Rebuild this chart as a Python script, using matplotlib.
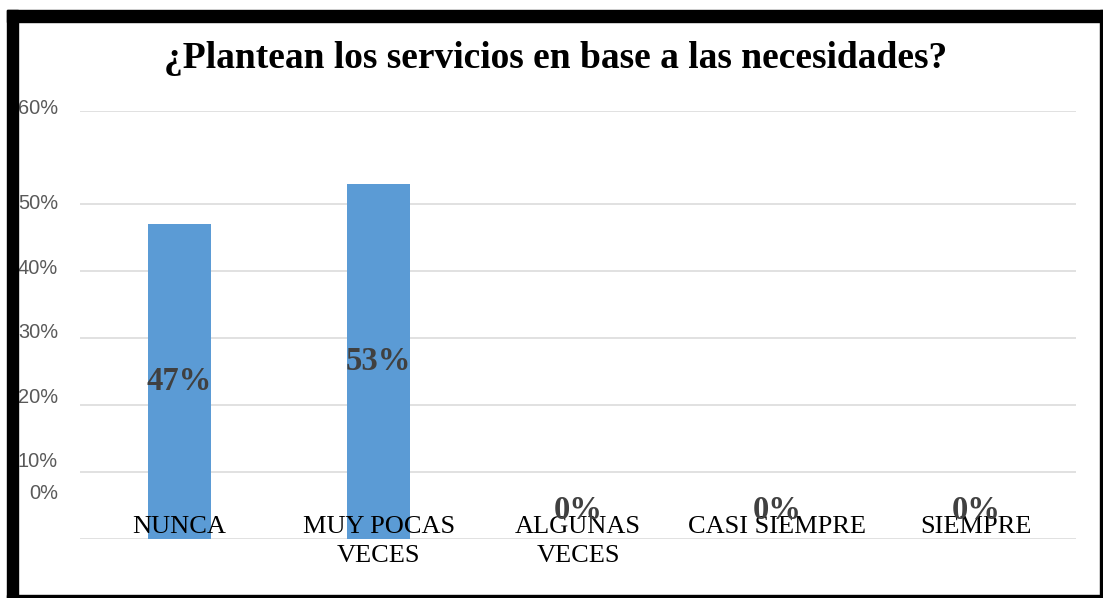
import matplotlib.pyplot as plt
from matplotlib.patches import Rectangle
from matplotlib.transforms import blended_transform_factory, ScaledTranslation

categories = ["NUNCA", "MUY POCAS\nVECES", "ALGUNAS\nVECES", "CASI SIEMPRE", "SIEMPRE"]
values = [0.47, 0.53, 0.0, 0.0, 0.0]
value_labels = ["47%", "53%", "0%", "0%", "0%"]

grid_values = [0.0, 0.1, 0.2, 0.3, 0.4, 0.5, 0.639]
tick_labels = ["0%", "10%", "20%", "30%", "40%", "50%", "60%"]
# where the (misaligned) tick labels sit, in data units
tick_label_y = [0.068, 0.116, 0.212, 0.309, 0.404, 0.501, 0.643]

W, H = 1103, 598
fig = plt.figure(figsize=(W / 100, H / 100), dpi=100)
fig.patch.set_facecolor("white")
ax = fig.add_axes([80 / W, 59 / H, 996 / W, 428 / H])

# gridlines
for g in grid_values:
    ax.axhline(g, color="#d9d9d9", linewidth=1.1, zorder=1)

x = list(range(len(categories)))
ax.bar(x, values, width=0.316, color="#5b9bd5", zorder=2)

ax.set_xlim(-0.5, len(categories) - 0.5)
ax.set_ylim(0, 0.639)
ax.axis("off")

# value labels
for xi, v, lab in zip(x, values, value_labels):
    y = v / 2 if v > 0 else 0.043
    ax.text(xi, y, lab, ha="center", va="center", fontsize=23.5,
            fontweight="bold", family="Liberation Serif", color="#404040", zorder=4)

# category labels (drawn inside the plot, above the baseline)
cat_tr = blended_transform_factory(ax.transData, ax.transAxes) + \
    ScaledTranslation(0, 23 / 100, fig.dpi_scale_trans)
for xi, cat in zip(x, categories):
    ax.text(xi, 0.0, cat, ha="center", va="top", fontsize=19,
            family="Liberation Serif", color="black", linespacing=1.41, zorder=3,
            transform=cat_tr)

# y tick labels
tr = blended_transform_factory(fig.transFigure, ax.transData)
for ty, lab in zip(tick_label_y, tick_labels):
    ax.text(58 / W, ty, lab, ha="right", va="center", fontsize=14.4,
            family="Liberation Sans", color="#595959", transform=tr, clip_on=False)

fig.text(556 / W, 1 - 59 / H, "¿Plantean los servicios en base a las necesidades?",
         ha="center", va="center", fontsize=27, fontweight="bold",
         family="Liberation Serif", color="black")

# black frame
frame = [(7, 10, 1096, 12), (7, 10, 11, 588), (1100, 10, 3, 588), (7, 595, 1096, 3)]
for fx, fy, fw, fh in frame:
    fig.add_artist(Rectangle((fx / W, 1 - (fy + fh) / H), fw / W, fh / H,
                             transform=fig.transFigure, color="black", zorder=5))

fig.savefig("out.png", dpi=100)
